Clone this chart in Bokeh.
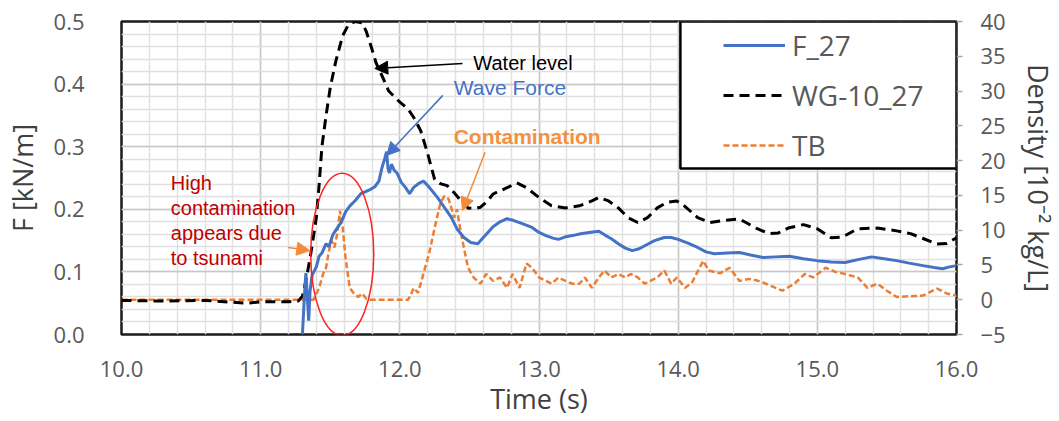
from bokeh.plotting import figure
from bokeh.models import (Range1d, LinearAxis, FixedTicker, Legend, LegendItem,
                          BoxAnnotation, Arrow, NormalHead)
from bokeh.core.properties import value
from bokeh.embed import file_html
from bokeh.resources import INLINE

# ---- wave force F_27 [kN/m] (left axis) ----
f27_t = [11.30, 11.315, 11.325, 11.335, 11.345, 11.355, 11.37, 11.40, 11.42, 11.44,
         11.47, 11.49, 11.52, 11.55, 11.58, 11.61, 11.64, 11.68, 11.72, 11.75,
         11.79, 11.82, 11.85, 11.87, 11.89, 11.905, 11.915, 11.925, 11.94, 11.96,
         11.98, 12.01, 12.04, 12.07, 12.10, 12.14, 12.17, 12.20, 12.23, 12.27,
         12.32, 12.37, 12.41, 12.46, 12.51, 12.56, 12.60, 12.67, 12.72, 12.77,
         12.82, 12.88, 12.95, 13.00, 13.05, 13.10, 13.14, 13.19, 13.24, 13.30,
         13.36, 13.43, 13.48, 13.52, 13.57, 13.62, 13.67, 13.72, 13.77, 13.83,
         13.90, 13.95, 14.00, 14.07, 14.14, 14.20, 14.26, 14.35, 14.44, 14.52,
         14.61, 14.70, 14.80, 14.90, 15.00, 15.10, 15.20, 15.30, 15.39, 15.48,
         15.57, 15.66, 15.76, 15.84, 15.90, 15.95, 16.00]
f27_v = [0.000, 0.065, 0.098, 0.060, 0.022, 0.070, 0.095, 0.108, 0.125, 0.130,
         0.145, 0.140, 0.160, 0.170, 0.180, 0.196, 0.205, 0.214, 0.225, 0.228,
         0.232, 0.236, 0.245, 0.265, 0.280, 0.292, 0.265, 0.258, 0.272, 0.262,
         0.258, 0.243, 0.235, 0.225, 0.235, 0.242, 0.245, 0.238, 0.230, 0.219,
         0.203, 0.187, 0.169, 0.155, 0.147, 0.145, 0.155, 0.172, 0.180, 0.185,
         0.182, 0.177, 0.171, 0.163, 0.158, 0.154, 0.152, 0.156, 0.158, 0.161,
         0.163, 0.165, 0.158, 0.153, 0.145, 0.138, 0.134, 0.137, 0.143, 0.150,
         0.155, 0.155, 0.152, 0.146, 0.139, 0.132, 0.129, 0.130, 0.131, 0.127,
         0.123, 0.124, 0.125, 0.121, 0.118, 0.116, 0.115, 0.120, 0.124, 0.121,
         0.118, 0.114, 0.110, 0.107, 0.105, 0.108, 0.110]

# ---- water level WG-10_27 (right axis) ----
wg_t = [10.00, 10.30, 10.60, 10.90, 11.00, 11.20, 11.27, 11.30, 11.33, 11.36,
        11.40, 11.42, 11.44, 11.47, 11.50, 11.54, 11.59, 11.63, 11.68, 11.73,
        11.76, 11.80, 11.83, 11.87, 11.92, 11.99, 12.06, 12.10, 12.15, 12.20,
        12.25, 12.29, 12.34, 12.39, 12.44, 12.49, 12.54, 12.58, 12.63, 12.67,
        12.77, 12.84, 12.91, 13.00, 13.09, 13.19, 13.29, 13.38, 13.43, 13.50,
        13.57, 13.64, 13.71, 13.78, 13.85, 13.92, 13.99, 14.05, 14.14, 14.23,
        14.33, 14.44, 14.56, 14.65, 14.72, 14.79, 14.90, 15.00, 15.10, 15.18,
        15.29, 15.43, 15.57, 15.67, 15.76, 15.86, 15.93, 16.00]
wg_v = [-0.1, -0.2, -0.1, -0.5, -0.3, -0.3, -0.2, 0.5, 3.2, 6.6,
        11.8, 16.5, 22.0, 26.5, 30.5, 34.3, 38.0, 39.5, 40.0, 39.8,
        38.5, 36.0, 34.0, 32.3, 30.0, 28.6, 27.4, 26.2, 24.3, 21.0,
        17.3, 16.7, 16.4, 15.4, 14.2, 13.2, 13.1, 13.3, 14.2, 15.2,
        16.1, 16.8, 16.1, 14.7, 13.5, 13.2, 13.5, 14.2, 14.7, 14.2,
        13.2, 11.8, 11.1, 11.8, 13.2, 14.0, 14.2, 13.4, 11.8, 11.1,
        11.4, 11.6, 10.3, 9.5, 9.6, 10.3, 10.8, 10.2, 8.9, 9.0,
        10.2, 10.3, 9.9, 9.5, 8.8, 8.0, 8.1, 8.9]

# ---- contamination density TB [10^-2 kg/L] (right axis) ----
tb_t = [10.00, 11.38, 11.42, 11.45, 11.47, 11.49, 11.51, 11.53, 11.55, 11.57,
        11.59, 11.61, 11.64, 11.67, 11.70, 11.73, 11.76, 11.78, 12.06, 12.08,
        12.10, 12.13, 12.15, 12.18, 12.21, 12.25, 12.29, 12.32, 12.35, 12.37,
        12.39, 12.41, 12.44, 12.46, 12.49, 12.53, 12.58, 12.62, 12.67, 12.72,
        12.77, 12.81, 12.86, 12.91, 12.95, 13.00, 13.05, 13.09, 13.14, 13.19,
        13.24, 13.29, 13.33, 13.38, 13.43, 13.47, 13.52, 13.57, 13.62, 13.66,
        13.71, 13.76, 13.80, 13.85, 13.90, 13.95, 13.99, 14.05, 14.10, 14.18,
        14.22, 14.30, 14.37, 14.44, 14.51, 14.56, 14.62, 14.70, 14.75, 14.84,
        14.91, 14.97, 15.06, 15.13, 15.20, 15.29, 15.36, 15.43, 15.50, 15.57,
        15.67, 15.76, 15.86, 15.93, 16.00]
tb_v = [0.0, 0.0, 1.7, 3.8, 4.6, 7.0, 8.5, 7.5, 9.5, 12.8,
        10.3, 6.0, 1.7, 0.9, 0.4, 0.9, 0.1, 0.0, 0.0, 0.8,
        1.7, 1.0, 2.3, 4.5, 6.6, 10.3, 13.8, 14.9, 14.5, 13.2,
        11.8, 13.0, 9.5, 7.5, 4.6, 3.2, 2.3, 3.7, 2.7, 3.2,
        1.7, 3.7, 1.7, 5.2, 4.6, 3.2, 2.7, 2.3, 3.2, 2.7,
        2.3, 2.3, 3.2, 1.7, 3.2, 4.2, 3.2, 3.7, 3.2, 3.7,
        3.2, 2.3, 2.7, 3.2, 4.2, 2.3, 3.2, 1.7, 2.5, 5.6,
        4.2, 3.8, 4.6, 2.7, 3.0, 2.8, 2.4, 1.7, 1.3, 2.4,
        3.7, 3.2, 4.6, 4.0, 3.7, 3.2, 1.7, 2.3, 1.3, 0.4,
        0.5, 0.6, 1.6, 0.9, 0.6]

# ---- axes ----
x_ticks = [10.0, 11.0, 12.0, 13.0, 14.0, 15.0, 16.0]
x_minor = [round(10 + 0.2 * i, 1) for i in range(31)]
f_ticks = [0.0, 0.1, 0.2, 0.3, 0.4, 0.5]
f_minor = [round(0.02 * i, 2) for i in range(26)]
d_ticks = [-5, 0, 5, 10, 15, 20, 25, 30, 35, 40]

# ---- annotation texts ----
note_water = "Water level"
note_force = "Wave Force"
note_cont = "Contamination"
note_high = ["High", "contamination", "appears due", "to tsunami"]
note_high_y = [0.242, 0.202, 0.162, 0.122]

BLUE = "#4472C4"
ORANGE = "#ED7D31"
GRAY = "#595959"

p = figure(width=1059, height=421, output_backend="svg", toolbar_location=None,
           x_range=Range1d(10, 16), y_range=Range1d(0, 0.5),
           min_border_left=116, min_border_right=96, min_border_top=21,
           min_border_bottom=87, background_fill_color="white",
           border_fill_color="white")
p.extra_y_ranges = {"dens": Range1d(-5, 40)}

p.outline_line_color = "#1a1a1a"
p.outline_line_width = 2.5

# grid: major lines every 1 s / 0.1 kN/m, light minor lines every 0.2 s / 0.02 kN/m
x_ticker = FixedTicker(ticks=x_ticks, minor_ticks=x_minor)
f_ticker = FixedTicker(ticks=f_ticks, minor_ticks=f_minor)
p.xaxis.ticker = x_ticker
p.yaxis.ticker = f_ticker
p.xgrid.ticker = x_ticker
p.ygrid.ticker = f_ticker
for g in (p.xgrid, p.ygrid):
    g.grid_line_color = "#C8C8C8"
    g.grid_line_width = 1.5
    g.minor_grid_line_color = "#E0E0E0"
    g.minor_grid_line_width = 1.5

TICK_FONT = "Open Sans"

def style_axis(ax):
    ax.axis_line_color = None
    ax.major_tick_line_color = None
    ax.minor_tick_line_color = None
    ax.major_label_text_font = TICK_FONT
    ax.major_label_text_font_size = "22px"
    ax.major_label_text_color = GRAY
    ax.axis_label_text_font = TICK_FONT
    ax.axis_label_text_font_size = "27px"
    ax.axis_label_text_font_style = "normal"
    ax.axis_label_text_color = "#404040"

xa = p.xaxis[0]
style_axis(xa)
xa.axis_label = "Time (s)"
xa.major_label_overrides = {t: f"{t:.1f}" for t in x_ticks}
xa.major_label_standoff = 20
xa.axis_label_standoff = 0

ya = p.yaxis[0]
style_axis(ya)
ya.axis_label = "F [kN/m]"
ya.major_label_overrides = {t: f"{t:.1f}" for t in f_ticks}
ya.major_label_standoff = 31
ya.axis_label_standoff = 10

ra = LinearAxis(y_range_name="dens", axis_label="Density [10\u207b\u00b2 kg/L]",
                ticker=FixedTicker(ticks=d_ticks))
style_axis(ra)
ra.major_tick_line_color = "#A6A6A6"
ra.major_tick_line_width = 1.5
ra.major_tick_out = 6
ra.major_tick_in = 0
ra.major_label_standoff = 18
ra.axis_label_standoff = 11
p.add_layout(ra, "right")

# data
r_tb = p.line(tb_t, tb_v, y_range_name="dens", line_color=ORANGE, line_width=2.5,
              line_dash="6 3")
r_wg = p.line(wg_t, wg_v, y_range_name="dens", line_color="black", line_width=3,
              line_dash="10 6")
r_f = p.line(f27_t, f27_v, line_color=BLUE, line_width=3)

# red ellipse marking the first contamination burst
p.ellipse(x=[11.586], y=[0.128], width=[0.453], height=[0.259],
          fill_color=None, line_color="#FF2020", line_width=1.5)

# annotations
TXT = value("Liberation Sans")
p.text(x=[12.528], y=[0.434], text=[note_water], text_font=TXT,
       text_font_size="20px", text_color="black", text_baseline="alphabetic")
p.text(x=[12.387], y=[0.394], text=[note_force], text_font=TXT,
       text_font_size="21px", text_color=BLUE, text_baseline="alphabetic")
p.text(x=[12.387], y=[0.316], text=[note_cont], text_font=TXT,
       text_font_size="21px", text_font_style="bold", text_color="#F4913F",
       text_baseline="alphabetic")
p.text(x=[10.354] * len(note_high), y=note_high_y, text=note_high, text_font=TXT,
       text_font_size="20px", text_color="#C00000", text_baseline="alphabetic")

arrows = [
    # (x0, y0, x1, y1, colour)
    (12.450, 0.433, 11.820, 0.425, "black"),
    (12.309, 0.382, 11.905, 0.286, BLUE),
    (12.613, 0.291, 12.450, 0.198, "#F28C3C"),
    (11.197, 0.139, 11.353, 0.134, "#F28C3C"),
]
for x0, y0, x1, y1, c in arrows:
    p.add_layout(Arrow(x_start=x0, y_start=y0, x_end=x1, y_end=y1,
                       line_color=c, line_width=1.5,
                       end=NormalHead(size=13, fill_color=c, line_color=c)))

# legend box sits in the top-right corner of the frame
p.add_layout(BoxAnnotation(left=14.016, right=16.0, top=0.5, bottom=0.265,
                           fill_color="white", fill_alpha=1.0,
                           line_color="black", line_width=2.5, line_alpha=1.0))

legend = Legend(items=[LegendItem(label="F_27", renderers=[r_f]),
                       LegendItem(label="WG-10_27", renderers=[r_wg]),
                       LegendItem(label="TB", renderers=[r_tb])],
                location=(602, 169), padding=0, margin=0, spacing=10,
                glyph_width=62, glyph_height=40, label_height=40,
                label_standoff=7, label_text_font=TICK_FONT,
                label_text_font_size="28px", label_text_color=GRAY,
                background_fill_alpha=0, border_line_alpha=0)
p.add_layout(legend)

open("out.html", "w").write(file_html(p, INLINE))
